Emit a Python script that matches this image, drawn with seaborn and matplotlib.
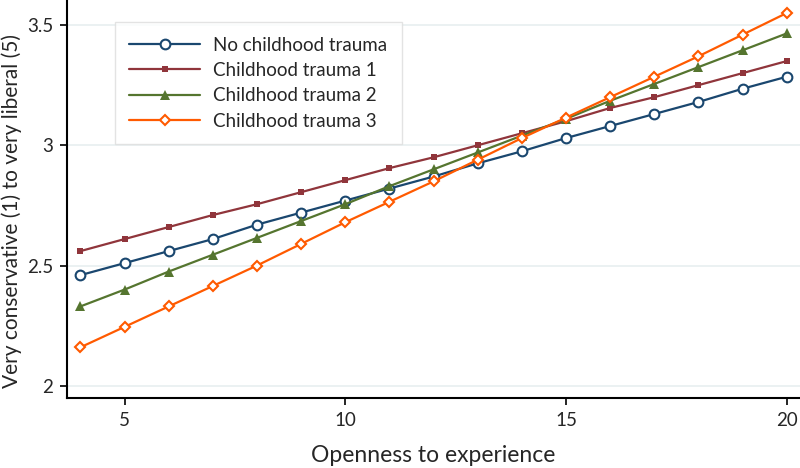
import seaborn as sns
import matplotlib.pyplot as plt
import matplotlib as mpl
import pandas as pd
mpl.use("Agg")

openness = [4, 5, 6, 7, 8, 9, 10, 11, 12, 13, 14, 15, 16, 17, 18, 19, 20]
no_trauma = [2.46, 2.51, 2.56, 2.61, 2.67, 2.72, 2.77, 2.82, 2.87, 2.925, 2.975, 3.03, 3.08, 3.13, 3.18, 3.235, 3.285]
trauma1 = [2.56, 2.61, 2.66, 2.71, 2.755, 2.805, 2.855, 2.905, 2.95, 3.0, 3.05, 3.1, 3.155, 3.2, 3.25, 3.3, 3.35]
trauma2 = [2.33, 2.40, 2.475, 2.545, 2.615, 2.685, 2.755, 2.83, 2.90, 2.97, 3.04, 3.11, 3.185, 3.255, 3.325, 3.395, 3.465]
trauma3 = [2.16, 2.245, 2.33, 2.415, 2.50, 2.59, 2.68, 2.765, 2.85, 2.94, 3.03, 3.115, 3.20, 3.285, 3.37, 3.46, 3.55]
labels = ['No childhood trauma', 'Childhood trauma 1', 'Childhood trauma 2', 'Childhood trauma 3']

rows = []
for lab, vals in zip(labels, [no_trauma, trauma1, trauma2, trauma3]):
    for x, y in zip(openness, vals):
        rows.append({'group': lab, 'openness': x, 'value': y})
df = pd.DataFrame(rows)

sns.set_style('white')
plt.rcParams['font.family'] = ['Lato', 'DejaVu Sans']

colors = ['#1a476f', '#90353b', '#55752f', '#ff5a00']
styles = [dict(marker='o', markersize=7, markerfacecolor='white', markeredgewidth=1.5),
          dict(marker='s', markersize=4.5, markeredgewidth=0),
          dict(marker='^', markersize=7, markeredgewidth=0),
          dict(marker='D', markersize=5.5, markerfacecolor='white', markeredgewidth=1.5)]

fig = plt.figure(figsize=(8, 4.68), dpi=100)
ax = fig.add_axes([0.084, 0.15, 0.916, 0.85])
for lab, col, st in zip(labels, colors, styles):
    sns.lineplot(data=df.loc[df.group == lab], x='openness', y='value', color=col,
                 linewidth=1.6, label=lab, ax=ax, markeredgecolor=col, **st)

ax.set_xlim(3.7, 20.3)
ax.set_ylim(1.95, 3.604)
ax.set_xticks([5, 10, 15, 20])
ax.set_yticks([2, 2.5, 3, 3.5])
ax.set_yticklabels(['2', '2.5', '3', '3.5'])
ax.yaxis.grid(True, color='#e8eff0', linewidth=1.2)
ax.set_axisbelow(True)
for s in ['top', 'right']:
    ax.spines[s].set_visible(False)
for s in ['left', 'bottom']:
    ax.spines[s].set_color('black')
    ax.spines[s].set_linewidth(1.5)
ax.tick_params(axis='both', direction='out', length=5, width=1.2, color='black',
               labelsize=13.5, pad=5, left=True, bottom=True)
ax.set_xlabel('Openness to experience', fontsize=16.5, labelpad=12)
ax.set_ylabel('Very conservative (1) to very liberal (5)', fontsize=15, labelpad=6)
ax.yaxis.set_label_coords(-0.062, 0.47)

leg = ax.legend(loc='upper left', bbox_to_anchor=(0.06, 0.953), fontsize=13.5,
                frameon=True, fancybox=False, edgecolor='#dddddd', handlelength=3.8,
                handletextpad=0.7, borderpad=0.75, labelspacing=0.45, borderaxespad=0.2)
leg.get_frame().set_linewidth(1.0)

fig.savefig('out.png', dpi=100)
